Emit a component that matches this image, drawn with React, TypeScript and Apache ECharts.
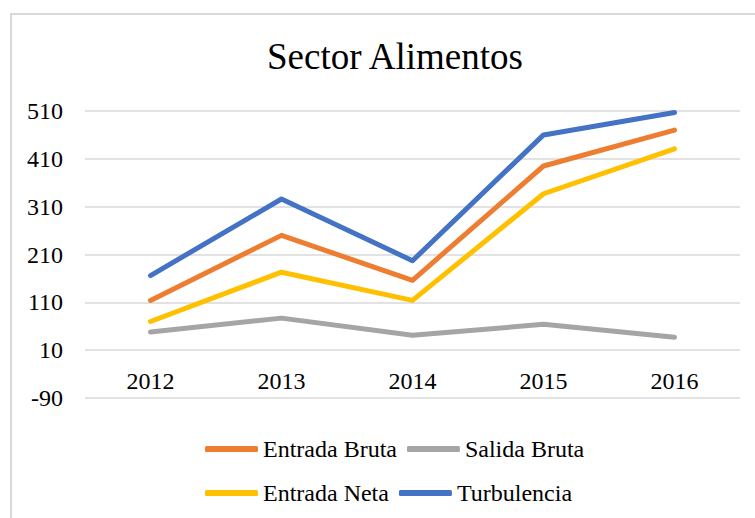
import React, { useEffect, useRef } from "react";
import * as echarts from "echarts";

const categories = ["2012", "2013", "2014", "2015", "2016"];
const entradaBruta = [114, 250, 156, 395, 470];
const salidaBruta = [48, 77, 41, 64, 37];
const entradaNeta = [70, 173, 114, 337, 431];
const turbulencia = [166, 326, 197, 460, 507];

const FONT = "Liberation Serif";

export default function App() {
  const ref = useRef<HTMLDivElement>(null);
  useEffect(() => {
    document.body.style.margin = "0";
    const chart = echarts.init(ref.current!, null, { renderer: "svg" });
    const mk = (name: string, data: number[], color: string) => ({
      name,
      type: "line",
      data,
      symbol: "none",
      lineStyle: { color, width: 5, cap: "round", join: "round" },
      itemStyle: { color },
    });
    chart.setOption({
      animation: false,
      backgroundColor: "#ffffff",
      title: {
        text: "Sector Alimentos",
        left: 262,
        top: 33,
        textStyle: { fontFamily: FONT, fontSize: 37, fontWeight: "normal", color: "#000" },
      },
      graphic: [
        {
          type: "rect",
          shape: { x: 11, y: 14, width: 900, height: 700 },
          style: { fill: "none", stroke: "#d9d9d9", lineWidth: 2 },
          silent: true,
        },
      ],
      legend: [
        {
          data: ["Entrada Bruta", "Salida Bruta"],
          left: 200,
          top: 432,
          icon: "roundRect",
          itemWidth: 53,
          itemHeight: 6,
          itemGap: 10,
          textStyle: { fontFamily: FONT, fontSize: 24, color: "#000" },
        },
        {
          data: ["Entrada Neta", "Turbulencia"],
          left: 200,
          top: 476,
          icon: "roundRect",
          itemWidth: 53,
          itemHeight: 6,
          itemGap: 10,
          textStyle: { fontFamily: FONT, fontSize: 24, color: "#000" },
        },
      ],
      grid: { left: 85, right: 15, top: 111, bottom: 120 },
      xAxis: {
        type: "category",
        data: categories,
        boundaryGap: true,
        axisLine: { show: false },
        axisTick: { show: false },
        axisLabel: { fontFamily: FONT, fontSize: 24, color: "#000", margin: -29 },
      },
      yAxis: {
        type: "value",
        min: -90,
        max: 510,
        interval: 100,
        axisLine: { show: false },
        axisTick: { show: false },
        axisLabel: { fontFamily: FONT, fontSize: 24, color: "#000", margin: 22 },
        splitLine: { lineStyle: { color: "#d9d9d9", width: 1.5 } },
      },
      series: [
        mk("Entrada Bruta", entradaBruta, "#ED7D31"),
        mk("Salida Bruta", salidaBruta, "#A5A5A5"),
        mk("Entrada Neta", entradaNeta, "#FFC000"),
        mk("Turbulencia", turbulencia, "#4472C4"),
      ],
    });
    return () => chart.dispose();
  }, []);
  return <div ref={ref} style={{ width: 755, height: 518 }} />;
}
